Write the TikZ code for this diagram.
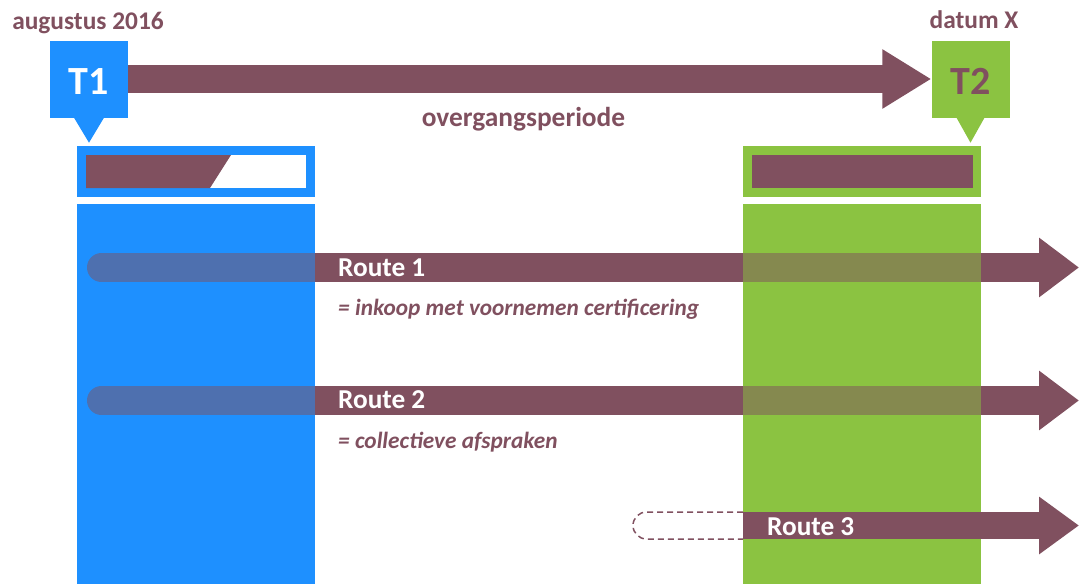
\documentclass[tikz,border=0pt]{standalone}
\usepackage{fontspec}
\setmainfont{Carlito}
\usetikzlibrary{arrows.meta}
\definecolor{tmaroon}{RGB}{128,80,95}
\definecolor{tblue}{RGB}{30,144,255}
\definecolor{tgreen}{RGB}{139,195,65}
\tikzset{
  lbl/.style={text=tmaroon, font=\bfseries\fontsize{25.4}{28}\selectfont, inner sep=0, anchor=base},
  bubble/.style={minimum width=78pt, minimum height=77pt, inner sep=0},
  bubtxt/.style={font=\bfseries\fontsize{40}{44}\selectfont, inner sep=0, anchor=base},
  colbox/.style={minimum width=238pt, minimum height=380pt, inner sep=0, anchor=north west},
  barbox/.style={minimum width=238pt, minimum height=51pt, inner sep=0},
  routetxt/.style={text=white, font=\bfseries\fontsize{27.3}{30}\selectfont, anchor=base west, inner sep=0},
  desc/.style={text=tmaroon, font=\bfseries\itshape\fontsize{23.3}{26}\selectfont, anchor=base west, inner sep=0},
  bigarrow/.style={draw=tmaroon, line width=28pt, -{Triangle[length=49pt,width=56pt]}},
  routearrow/.style={draw=tmaroon, line width=29pt, line cap=round, -{Triangle[length=40pt,width=57pt]}},
  routearrowb/.style={draw=tmaroon, line width=27pt, -{Triangle[length=40pt,width=55pt]}},
  dashline/.style={draw=tmaroon, line width=1.5pt, dash pattern=on 6pt off 4pt, rounded corners=13.5pt}
}
\begin{document}
\begin{tikzpicture}[x=1pt,y=-1pt]
\useasboundingbox (0,0) rectangle (1079,584);
% columns
\node[colbox, fill=tblue] (colA) at (77,204) {};
\node[colbox, fill=tgreen] (colB) at (743,204) {};
% routes 1 and 2
\coordinate (r1s) at (101.5,267.5);
\coordinate (r1e) at (1079,267.5);
\coordinate (r2s) at (101.5,400.5);
\coordinate (r2e) at (1079,400.5);
\draw[routearrow] (r1s) -- (r1e);
\draw[routearrow] (r2s) -- (r2e);
% translucent columns over the routes
\fill[tblue, opacity=.5] (colA.north west) rectangle (colA.south east);
\fill[tgreen, opacity=.5] (colB.north west) rectangle (colB.south east);
\node[routetxt] (rt1) at (338,276) {Route 1};
\node[routetxt] (rt2) at (338,408) {Route 2};
\node[desc] (d1) at (338,315) {= inkoop met voornemen certificering};
\node[desc] (d2) at (338,448) {= collectieve afspraken};
% route 3
\coordinate (r3s) at (743,525.5);
\coordinate (r3e) at (1079,525.5);
\draw[routearrowb] (r3s) -- (r3e);
\draw[dashline] (743,512) -- (633,512) -- (633,539) -- (743,539);
\node[routetxt] (rt3) at (767,535) {Route 3};
% top bars
\node[barbox, fill=tblue] (barA) at (196,171.5) {};
\fill[white] (86,155) rectangle (306,188);
\fill[tmaroon] (86,155) -- (231,155) -- (210,188) -- (86,188) -- cycle;
\node[barbox, fill=tgreen] (barB) at (862,171.5) {};
\fill[tmaroon] (752,155) rectangle (973,188);
% bubbles
\node[bubble, fill=tblue] (T1) at (89,79) {};
\fill[tblue] ([xshift=-15pt]T1.south) -- ([yshift=-25pt]T1.south) -- ([xshift=15pt]T1.south) -- cycle;
\node[bubtxt, text=white] (T1t) at (89,94) {T1};
\node[bubble, fill=tgreen] (T2) at (970.5,79) {};
\fill[tgreen] ([xshift=-14pt]T2.south) -- ([yshift=-25pt]T2.south) -- ([xshift=14pt]T2.south) -- cycle;
\node[bubtxt, text=tmaroon] (T2t) at (970.5,94) {T2};
\draw[bigarrow] (T1.east) -- (T2.west);
% labels
\node[lbl] (aug) at (88,29) {augustus 2016};
\node[lbl] (datum) at (974,28) {datum X};
\node[lbl, font=\bfseries\fontsize{27.4}{30}\selectfont] (over) at (523.5,126) {overgangsperiode};
\end{tikzpicture}
\end{document}
